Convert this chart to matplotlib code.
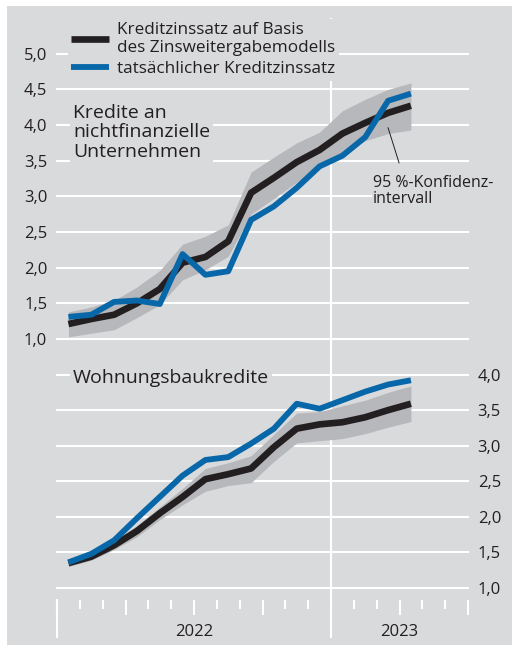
import numpy as np
import matplotlib
matplotlib.use("Agg")
import matplotlib.pyplot as plt
from matplotlib.patches import Rectangle
from matplotlib.lines import Line2D

plt.rcParams["font.family"] = ["Open Sans", "DejaVu Sans"]

# -----------------------------
# Data (monthly, Jan 2022 - Apr 2023)
# -----------------------------
months = np.arange(16) + 0.5

nfc_model = [1.21, 1.28, 1.34, 1.50, 1.70, 2.07, 2.15, 2.37, 3.05, 3.26, 3.48, 3.65, 3.88, 4.03, 4.17, 4.27]
nfc_actual = [1.31, 1.34, 1.52, 1.54, 1.49, 2.19, 1.90, 1.95, 2.67, 2.86, 3.12, 3.42, 3.57, 3.83, 4.34, 4.44]
nfc_lower = [1.03, 1.08, 1.13, 1.30, 1.48, 1.83, 1.97, 2.16, 2.75, 2.97, 3.20, 3.40, 3.62, 3.78, 3.88, 3.93]
nfc_upper = [1.38, 1.45, 1.54, 1.73, 1.96, 2.33, 2.44, 2.60, 3.34, 3.55, 3.75, 3.90, 4.20, 4.36, 4.50, 4.59]

hh_model = [1.35, 1.44, 1.60, 1.80, 2.05, 2.28, 2.53, 2.60, 2.68, 2.98, 3.24, 3.30, 3.33, 3.40, 3.50, 3.59]
hh_actual = [1.36, 1.48, 1.67, 1.98, 2.28, 2.58, 2.80, 2.84, 3.03, 3.24, 3.59, 3.52, 3.64, 3.76, 3.86, 3.92]
hh_lower = [1.30, 1.39, 1.54, 1.72, 1.96, 2.17, 2.36, 2.44, 2.48, 2.78, 3.04, 3.07, 3.10, 3.17, 3.26, 3.34]
hh_upper = [1.40, 1.50, 1.66, 1.88, 2.14, 2.40, 2.68, 2.76, 2.86, 3.16, 3.46, 3.48, 3.56, 3.64, 3.75, 3.84]

top_ticks = [1.0, 1.5, 2.0, 2.5, 3.0, 3.5, 4.0, 4.5, 5.0]
bot_ticks = [1.0, 1.5, 2.0, 2.5, 3.0, 3.5, 4.0]
years = ["2022", "2023"]

# -----------------------------
# Style
# -----------------------------
BG = "#d9dadc"
BAND = "#b7b8bb"
BLACK = "#231f20"
BLUE = "#0767a9"
TXT = "#231f20"

fig = plt.figure(figsize=(5.12, 6.45), dpi=100)
fig.patches.append(Rectangle((7 / 512, 0), 1, 1 - 6 / 645, transform=fig.transFigure,
                             facecolor=BG, edgecolor="none", zorder=-10))

left = 57 / 512
width = 411 / 512
ax1 = fig.add_axes([left, (645 - 339) / 645, width, 321 / 645])
ax2 = fig.add_axes([left, (645 - 588) / 645, width, 249 / 645])


def fmt(v):
    return f"{v:.1f}".replace(".", ",")


for ax in (ax1, ax2):
    ax.set_facecolor("none")
    for s in ax.spines.values():
        s.set_visible(False)
    ax.set_xlim(0, 18)
    ax.grid(axis="y", color="white", lw=1.5)
    ax.set_axisbelow(True)
    ax.axvline(12, color="white", lw=1.5, zorder=0.5)

# top panel
ax1.set_ylim(1.0, 5.5)
ax1.set_yticks(top_ticks)
ax1.set_yticklabels([fmt(v) for v in top_ticks])
ax1.tick_params(axis="y", length=0, pad=7, labelsize=12, labelcolor=TXT)
ax1.tick_params(axis="x", length=0, labelbottom=False)
ax1.fill_between(months, nfc_lower, nfc_upper, color=BAND, lw=0, zorder=1)
ax1.plot(months, nfc_model, color=BLACK, lw=4.8, solid_capstyle="butt", zorder=2,
         label="Kreditzinssatz auf Basis\ndes Zinsweitergabemodells")
ax1.plot(months, nfc_actual, color=BLUE, lw=4.2, solid_capstyle="butt", zorder=3,
         label="tatsächlicher Kreditzinssatz")
for gl in ax1.get_ygridlines():
    gl.set_clip_on(False)

leg = ax1.legend(loc="upper left", bbox_to_anchor=(0.005, 1.025), fontsize=12.3,
                 frameon=True, facecolor=BG, edgecolor="none", framealpha=1,
                 handlelength=2.2, handletextpad=0.5, labelspacing=0.3,
                 borderpad=0.2, labelcolor=TXT)
leg.set_zorder(5)

ax1.text(16 / 411, (339 - 104) / 321, "Kredite an\nnichtfinanzielle\nUnternehmen",
         transform=ax1.transAxes, fontsize=14, color=TXT, va="top", ha="left",
         linespacing=1.1, zorder=5,
         bbox=dict(facecolor=BG, edgecolor="none", pad=2))

# confidence band label with leader line
ax1.plot([14.5, 14.98], [3.96, 3.47], color=TXT, lw=0.7, zorder=4)
ax1.text(13.84, 3.08, "95 %-Konfidenz-\nintervall", fontsize=11.5, color=TXT,
         va="center", ha="left", linespacing=1.0, zorder=5,
         bbox=dict(facecolor=BG, edgecolor="none", pad=1))

# bottom panel
ax2.set_ylim(1.0, 4.5)
ax2.set_yticks(bot_ticks)
ax2.set_yticklabels([fmt(v) for v in bot_ticks])
ax2.yaxis.tick_right()
ax2.tick_params(axis="y", length=0, pad=7, labelsize=12, labelcolor=TXT)
ax2.fill_between(months, hh_lower, hh_upper, color=BAND, lw=0, zorder=1)
ax2.plot(months, hh_model, color=BLACK, lw=4.8, solid_capstyle="butt", zorder=2)
ax2.plot(months, hh_actual, color=BLUE, lw=4.2, solid_capstyle="butt", zorder=3)
for gl in ax2.get_ygridlines():
    gl.set_clip_on(False)

ax2.text(16 / 411, (588 - 378) / 249, "Wohnungsbaukredite", transform=ax2.transAxes,
         fontsize=14, color=TXT, va="center", ha="left", zorder=5,
         bbox=dict(facecolor=BG, edgecolor="none", pad=2))

# x axis: month / quarter ticks, year lines
ax2.spines["bottom"].set_position(("outward", 8.6))
ax2.set_xticks(np.arange(0, 19, 3))
ax2.set_xticks(np.arange(0, 19), minor=True)
ax2.tick_params(axis="x", which="major", direction="out", length=10.8, width=1.5,
                color="white", labelbottom=False)
ax2.tick_params(axis="x", which="minor", direction="out", length=6.5, width=1.5,
                color="white")
xt = ax2.get_xaxis_transform()
for x0, y0 in [(0, -12 / 249), (12, 0)]:
    ax2.add_line(Line2D([x0, x0], [y0, -49 / 249], transform=xt, color="white",
                        lw=1.5, clip_on=False))
for xc, yr in zip([6, 15], years):
    ax2.text(xc, -44 / 249, yr, transform=xt, ha="center", va="center",
             fontsize=12, color=TXT)

fig.savefig("out.png", dpi=100)
